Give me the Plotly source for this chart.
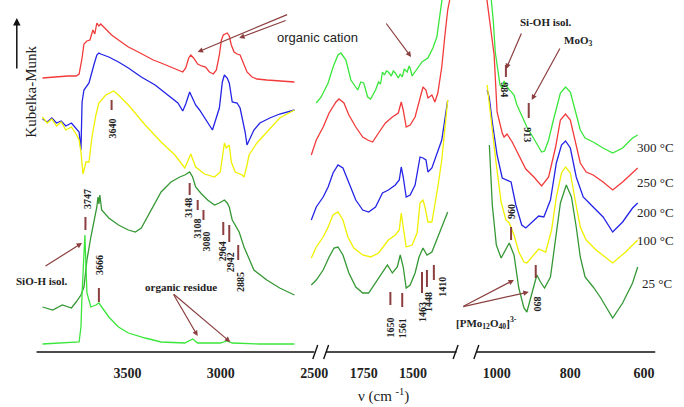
import plotly.graph_objects as go

W, H = 684, 407

# ---------------- data (wavenumber cm-1, Kubelka-Munk a.u.) ----------------
# Panel 1 : 4000-2500 cm-1
red1_wn = [3955,3900,3865,3820,3775,3759,3743,3733,3717,3701,3685,3675,3664,3653,3643,3622,3585,3548,3495,3442,3405,3362,3320,3272,3230,3204,3188,3172,3161,3146,3124,3103,3082,3061,3040,3024,3008,2997,2987,2976,2966,2955,2944,2929,2913,2897,2881,2860,2833,2807,2754,2675,2606]
red1_y = [274,275,275,276,276,278,294,308,311,312,322,318,329,326,328,324,317,312,305,300,296,292,289,285,282,280,284,294,297,294,288,286,285,280,278,282,297,312,317,318,319,316,307,300,298,297,290,280,275,273,272,271,270]

blue1_wn = [3955,3930,3905,3880,3855,3830,3800,3775,3759,3749,3743,3733,3706,3680,3664,3653,3643,3600,3548,3495,3426,3352,3283,3230,3204,3188,3167,3151,3135,3114,3087,3045,3008,2992,2981,2966,2955,2939,2913,2897,2870,2860,2823,2791,2738,2685,2606]
blue1_y = [233,230,234,229,231,226,229,224,220,202,250,262,269,287,297,299,298,295,290,284,275,267,257,249,241,248,260,254,247,242,234,222,244,270,277,274,269,250,249,244,220,207,222,229,234,238,242]

yellow1_wn = [3955,3930,3905,3880,3855,3830,3800,3775,3759,3749,3738,3722,3706,3690,3669,3653,3616,3574,3548,3495,3405,3320,3246,3204,3193,3161,3135,3087,3034,3003,2981,2971,2955,2944,2923,2886,2876,2860,2849,2807,2754,2685,2606]
yellow1_y = [235,229,233,226,230,222,225,218,212,200,178,190,190,215,237,249,257,261,257,247,227,210,197,187,184,198,185,178,175,180,209,204,207,190,180,177,175,187,197,209,220,234,242]

dkgreen1_wn = [3955,3900,3849,3800,3775,3749,3733,3717,3696,3680,3664,3658,3653,3648,3643,3638,3600,3548,3495,3458,3426,3373,3320,3267,3220,3193,3167,3151,3135,3108,3071,3034,3008,2981,2966,2955,2939,2902,2876,2823,2754,2685,2606]
dkgreen1_y = [45,42,47,44,50,57,65,92,115,130,145,155,148,157,145,142,134,127,122,120,124,142,160,170,175,177,180,175,165,159,152,147,149,152,149,145,132,120,105,82,72,64,57]

ltgreen1_wn = [3955,3850,3759,3749,3743,3728,3722,3717,3696,3669,3653,3638,3600,3548,3495,3405,3320,3193,3167,3151,3124,3003,2966,2939,2791,2606]
ltgreen1_y = [8,9,10,25,59,117,92,59,45,47,49,45,35,25,19,14,10,9,12,13,9,9,11,9,8,8]

# Panel 2 : 2000-1300 cm-1
green2_wn = [1990,1965,1930,1905,1880,1865,1840,1815,1780,1765,1750,1730,1715,1690,1675,1665,1655,1645,1635,1625,1610,1600,1590,1575,1565,1555,1545,1530,1520,1515,1505,1490,1455,1425,1400,1380,1365,1355,1345]
green2_y = [249,255,269,285,297,299,292,272,262,270,269,255,253,262,270,268,280,277,281,280,276,281,279,274,278,275,283,280,286,284,276,280,290,294,304,315,335,352,365]

red2_wn = [2015,1990,1955,1925,1890,1875,1850,1825,1790,1755,1730,1705,1675,1640,1605,1575,1560,1550,1535,1515,1490,1465,1450,1435,1425,1405,1390,1375,1355,1340,1325,1315,1305]
red2_y = [197,212,225,239,250,253,249,237,225,215,212,210,219,229,235,239,250,242,225,227,235,254,265,262,254,257,250,259,285,315,342,352,365]

blue2_wn = [2015,1990,1955,1930,1905,1880,1855,1825,1790,1755,1725,1690,1655,1625,1590,1570,1560,1550,1535,1515,1490,1465,1450,1435,1425,1405,1380,1355,1340,1325]
blue2_y = [132,145,155,165,179,187,184,169,152,142,140,145,159,162,167,172,185,175,155,157,167,195,194,192,180,184,197,212,232,252]

yellow2_wn = [2015,1990,1955,1930,1905,1880,1855,1830,1800,1755,1715,1675,1625,1590,1570,1560,1550,1535,1505,1480,1465,1450,1440,1425,1405,1390,1375,1355,1340,1325]
yellow2_y = [94,105,115,125,137,140,132,115,104,97,95,99,112,117,122,139,125,105,107,119,149,152,145,130,130,147,165,192,219,252]

dkgreen2_wn = [2015,1990,1955,1925,1900,1880,1855,1825,1790,1755,1725,1690,1655,1630,1605,1580,1565,1550,1535,1515,1490,1470,1450,1430,1405,1380,1355,1325]
dkgreen2_y = [67,72,82,95,104,105,97,79,65,59,59,69,79,87,79,85,97,85,64,67,79,95,104,97,100,112,125,140]

# Panel 3 : 1050-600 cm-1
green3_wn = [1016,1009,1004,991,985,980,972,953,945,918,905,891,878,870,859,846,827,813,800,787,773,760,738,711,685,658,631,617]
green3_y = [357,330,300,267,264,271,265,257,247,225,217,208,200,201,212,232,259,265,260,242,222,214,210,204,199,204,214,217]

red3_wn = [1030,1007,999,985,980,972,958,934,921,899,878,859,840,827,813,800,787,773,757,738,711,685,658,631,617]
red3_y = [362,297,240,219,215,218,210,192,183,175,166,175,205,232,238,232,212,189,180,177,170,162,170,179,184]

blue3_wn = [1026,1020,1012,999,985,972,961,948,932,921,899,886,872,854,838,824,813,800,784,765,738,711,685,658,631,617]
blue3_y = [262,254,230,197,174,172,170,147,127,124,132,136,135,152,189,207,211,204,175,155,145,135,120,130,144,149]

yellow3_wn = [1026,1015,1001,988,975,966,953,940,926,918,899,886,867,851,838,824,813,800,787,773,757,730,685,650,617]
yellow3_y = [267,230,187,150,132,129,117,100,90,89,97,103,100,122,155,179,185,179,152,125,112,102,89,100,112]

dkgreen3_wn = [1020,1012,1001,988,966,953,940,926,918,905,891,881,870,854,846,827,811,797,784,773,760,738,719,685,658,631,617]
dkgreen3_y = [207,147,107,94,109,97,64,44,40,57,77,70,64,75,97,149,167,155,125,95,75,65,55,34,49,69,85]

# tick labels
ticks1 = [3500, 3000, 2500]
ticks2 = [1750, 1500]
ticks3 = [1000, 800, 600]

# peak markers: (axis, label, bar wn, bar y0, bar y1, text wn, text y, text angle)
peaks = [
    ('x', '3640', 3585, 242, 252, 3585, 223, -90),
    ('x', '3747', 3725, 122, 135, 3717, 153, -90),
    ('x', '3666', 3653, 50, 64, 3653, 87, -90),
    ('x', '3148', 3167, 157, 169, 3177, 144, -90),
    ('x', '3108', 3124, 142, 152, 3130, 123, -90),
    ('x', '3080', 3093, 132, 142, 3082, 110, -90),
    ('x', '2964', 2987, 117, 130, 2992, 101, -90),
    ('x', '2942', 2955, 110, 127, 2950, 90, -90),
    ('x', '2885', 2907, 92, 107, 2897, 70, -90),
    ('x2', '1650', 1615, 47, 60, 1615, 25, -90),
    ('x2', '1561', 1555, 45, 59, 1555, 24, -90),
    ('x2', '1463', 1455, 59, 80, 1455, 40, -90),
    ('x2', '1448', 1430, 65, 82, 1425, 50, -90),
    ('x2', '1410', 1395, 72, 87, 1355, 65, -90),
    ('x3', '984', 975, 275, 287, 978, 262, 90),
    ('x3', '913', 913, 234, 249, 916, 217, 90),
    ('x3', '960', 961, 112, 125, 961, 140, -90),
    ('x3', '890', 894, 74, 87, 889, 48, 90),
]

temps = ['300 °C', '250 °C', '200 °C', '100 °C', '25 °C']

# ---------------- styling ----------------
C_RED = '#f23a3a'
C_BLUE = '#2424e6'
C_YEL = '#f0f000'
C_DKG = '#359835'
C_LTG = '#3ae63a'
C_MARK = '#8b3f3f'
SERIF = 'Liberation Serif'


def pxx(x):
    return x / W


def pxy(y):
    return 1 - y / H


fig = go.Figure()

series = [
    ('x', red1_wn, red1_y, C_RED), ('x', blue1_wn, blue1_y, C_BLUE),
    ('x', yellow1_wn, yellow1_y, C_YEL), ('x', dkgreen1_wn, dkgreen1_y, C_DKG),
    ('x', ltgreen1_wn, ltgreen1_y, C_LTG),
    ('x2', green2_wn, green2_y, C_LTG), ('x2', red2_wn, red2_y, C_RED),
    ('x2', blue2_wn, blue2_y, C_BLUE), ('x2', yellow2_wn, yellow2_y, C_YEL),
    ('x2', dkgreen2_wn, dkgreen2_y, C_DKG),
    ('x3', green3_wn, green3_y, C_LTG), ('x3', red3_wn, red3_y, C_RED),
    ('x3', blue3_wn, blue3_y, C_BLUE), ('x3', yellow3_wn, yellow3_y, C_YEL),
    ('x3', dkgreen3_wn, dkgreen3_y, C_DKG),
]
for ax, xs, ys, col in series:
    fig.add_trace(go.Scatter(x=xs, y=ys, xaxis=ax, yaxis='y', mode='lines',
                             line=dict(color=col, width=1.3), showlegend=False,
                             hoverinfo='skip'))

shapes = []
annotations = []

# peak bars + labels
for ax, lab, bx, y0, y1, tx, ty, ang in peaks:
    shapes.append(dict(type='line', xref=ax, yref='y', x0=bx, x1=bx, y0=y0, y1=y1,
                       line=dict(color=C_MARK, width=2)))
    annotations.append(dict(xref=ax, yref='y', x=tx, y=ty, text=lab, textangle=ang,
                            showarrow=False,
                            font=dict(family=SERIF, size=10, color='#222', weight='bold')))

# axis lines and breaks
axis_segments = [(37, 318), (330, 462), (482, 663)]
for a, b in axis_segments:
    shapes.append(dict(type='line', xref='paper', yref='paper', x0=pxx(a), x1=pxx(b),
                       y0=pxy(352), y1=pxy(352), line=dict(color='#111', width=1.6)))
for bx in [319, 330, 461, 482]:
    shapes.append(dict(type='line', xref='paper', yref='paper', x0=pxx(bx - 2.5),
                       x1=pxx(bx + 2.5), y0=pxy(359), y1=pxy(345),
                       line=dict(color='#111', width=1.4)))

# arrows (head, tail) in pixels
arrows = [((200, 52), (291, 14)), ((242, 38), (290, 20)), ((416, 57), (390, 22)),
          ((83, 243), (45, 267)), ((200, 336), (175, 293)), ((233, 342), (175, 293)),
          ((512, 69), (528, 32)), ((538, 100), (567, 47)),
          ((520, 280), (468, 307)), ((535, 292), (468, 307))]
for (hx, hy), (tx, ty) in arrows:
    annotations.append(dict(xref='paper', yref='paper', x=pxx(hx), y=pxy(hy), text='',
                            showarrow=True, ax=tx - hx, ay=ty - hy, arrowhead=2,
                            arrowsize=0.9, arrowwidth=1.2, arrowcolor=C_MARK))
# y axis arrow
annotations.append(dict(xref='paper', yref='paper', x=pxx(17), y=pxy(18), text='',
                        showarrow=True, ax=0, ay=52, arrowhead=2, arrowsize=1,
                        arrowwidth=1.5, arrowcolor='#111'))


def label(x, y, text, size=11, family=SERIF, bold=True, angle=0, xanchor='center'):
    annotations.append(dict(xref='paper', yref='paper', x=pxx(x), y=pxy(y), text=text,
                            showarrow=False, textangle=angle, xanchor=xanchor,
                            yanchor='middle',
                            font=dict(family=family, size=size, color='#222',
                                      weight='bold' if bold else 'normal')))


label(321, 37, 'organic cation', size=13, family='Liberation Sans', bold=False)
label(43, 281, 'SiO-H isol.')
label(183, 287, 'organic residue')
label(552, 22, 'Si-OH isol.')
label(585, 41, 'MoO<sub>3</sub>')
label(492, 323, '[PMo<sub>12</sub>O<sub>40</sub>]<sup>3-</sup>')
for t, (tx, ty) in zip(temps, [(643, 147), (643, 182), (643, 212), (643, 240), (648, 283)]):
    label(tx, ty, t, size=13, bold=False, xanchor='left')
label(31, 92, 'Kubelka-Munk', size=15, bold=False, angle=-90)
label(388, 395, 'ν (cm <sup>-1</sup>)', size=15, bold=False)

tickfont = dict(family=SERIF, size=14, color='#222', weight='bold')
common = dict(anchor='free', position=pxy(352), showgrid=False, zeroline=False,
              showline=False, ticks='outside', ticklen=8, tickcolor='rgba(0,0,0,0)',
              tickfont=tickfont)

fig.update_layout(
    width=W, height=H, margin=dict(l=0, r=0, t=0, b=0),
    paper_bgcolor='white', plot_bgcolor='rgba(0,0,0,0)',
    xaxis=dict(domain=[pxx(36), pxx(324)], range=[3992, 2468], tickvals=ticks1, **common),
    xaxis2=dict(domain=[pxx(312), pxx(462)], range=[2030, 1280], tickvals=ticks2, **common),
    xaxis3=dict(domain=[pxx(478), pxx(665)], range=[1066, 564], tickvals=ticks3, **common),
    yaxis=dict(domain=[0, 1], range=[-55, 352], visible=False),
    shapes=shapes, annotations=annotations, showlegend=False,
)

fig.write_html('out.html')
